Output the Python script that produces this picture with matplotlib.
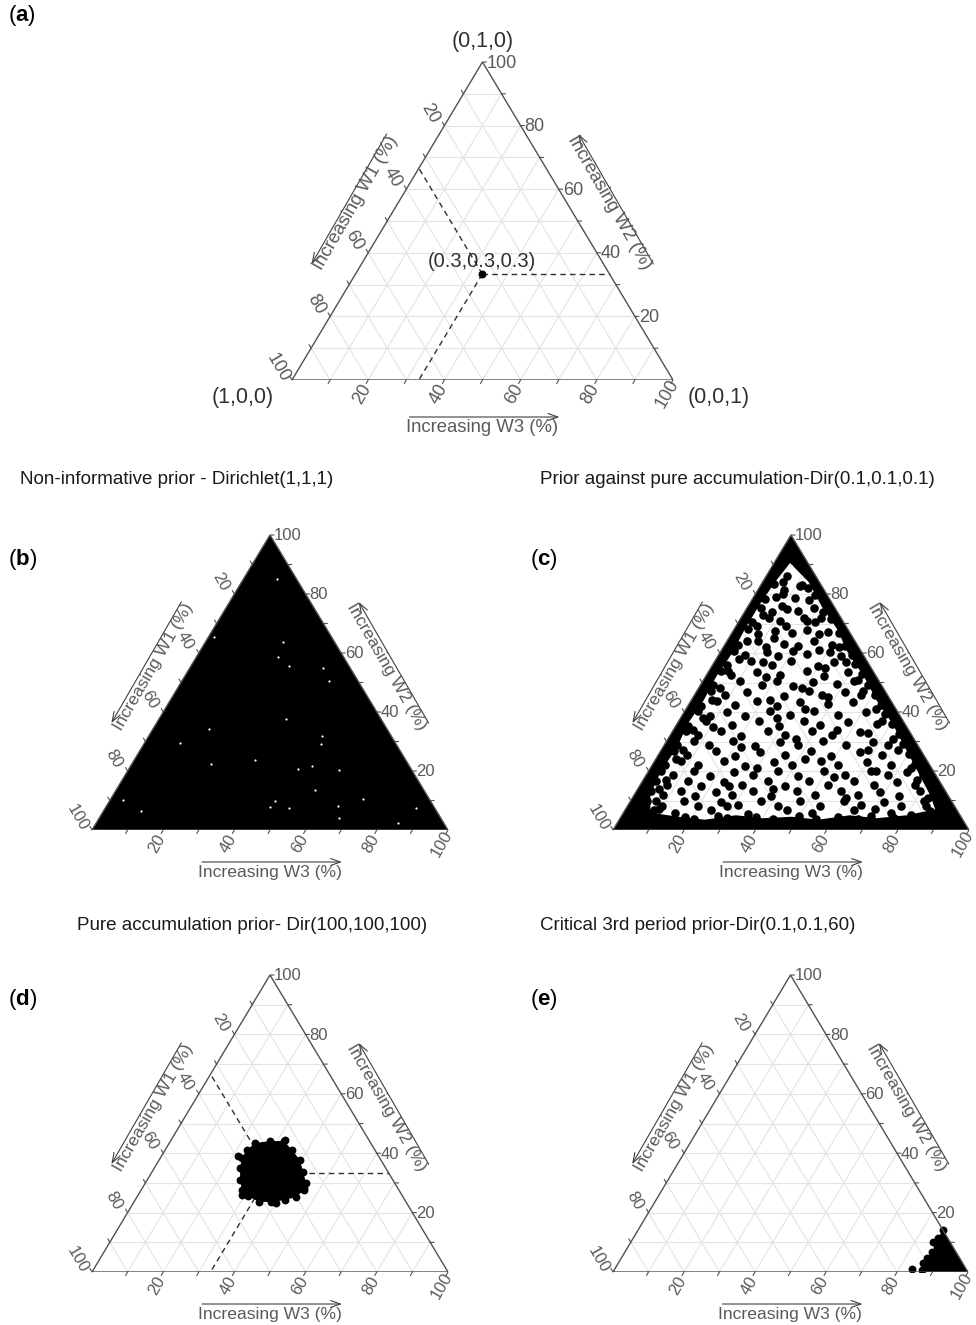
import matplotlib.pyplot as plt

plt.rcParams['font.family'] = ['Liberation Sans', 'DejaVu Sans']
plt.rcParams['mathtext.fontset'] = 'custom'
plt.rcParams['mathtext.rm'] = 'Liberation Sans'
plt.rcParams['mathtext.bf'] = 'Liberation Sans:bold'

# compositions are given as W2 and W3 in percent; W1 = 100 - W2 - W3

# (a) a single composition with guide lines
a_w2 = [33.3]
a_w3 = [33.3]

# (b) Dir(1,1,1): the cloud covers the whole simplex, a few gaps stay white
b_fill_w2 = [0, 100, 0]
b_fill_w3 = [0, 0, 100]
b_gap_w2 = [85.0, 65.3, 63.8, 58.8, 55.7, 55.0, 50.5, 37.6, 34.2, 31.9, 29.0, 29.4, 22.5,
            23.8, 20.8, 21.8, 20.3, 10.2, 6.6, 7.7, 9.9, 7.3, 13.6, 8.2, 4.0, 10.5, 2.3, 7.5]
b_gap_w3 = [9.6, 1.7, 21.7, 22.8, 27.5, 37.5, 41.3, 35.6, 15.8, 48.7, 49.9, 10.1, 22.1,
            34.0, 47.5, 50.9, 59.3, 3.6, 10.5, 46.1, 46.4, 51.8, 55.7, 65.1, 67.4, 71.0, 84.7, 87.2]

# (c) Dir(0.1,0.1,0.1): solid band along the edges, scattered points inside
c_band_w2 = [7, 12, 20, 28, 36, 44, 52, 60, 68, 76, 84, 90.5,
             84, 76, 68, 60, 52, 44, 36, 28, 20, 12, 7,
             5, 4, 5, 3.5, 4.5, 4, 5, 3.5, 4.5, 5.5]
c_band_w3 = [7, 4.5, 3.5, 4, 3, 3.5, 3, 3.5, 3, 3, 3.5, 4.5,
             13, 20.5, 29, 36, 44.5, 52, 60.5, 68, 75.5, 83, 87,
             80, 72, 64, 56, 48, 40, 32, 24, 16, 10]
c_w2 = [83.3, 81.5, 82.8, 81.9,
        78.4, 80.0, 78.7, 79.5,
        75.4, 73.9, 75.0, 74.1, 75.3, 73.8,
        70.5, 71.9, 70.8, 72.0, 70.6, 71.4,
        68.0, 66.5, 67.6, 66.8, 67.9, 66.4, 66.9,
        62.6, 64.0, 63.0, 62.4, 64.1, 62.8, 62.5,
        60.6, 59.2, 60.3, 59.0, 60.8, 59.5, 60.4, 59.1, 59.3,
        55.8, 57.2, 56.0, 57.3, 55.7, 56.9, 56.2,
        53.9, 52.4, 53.6, 52.7, 53.8, 52.3, 53.5, 52.9,
        49.0, 50.4, 49.2, 50.6, 48.9, 50.2, 49.5, 50.5, 49.3,
        47.0, 45.6, 46.9, 45.5, 47.1, 45.8, 46.7, 45.6, 45.9,
        42.2, 43.6, 42.5, 43.7, 42.0, 43.4, 42.6, 43.5, 42.4,
        40.3, 38.8, 40.1, 38.7, 40.2, 39.0, 40.4, 38.9, 40.0, 39.2,
        35.4, 36.9, 35.6, 37.0, 35.3, 36.8, 35.5, 36.7, 35.8, 35.9,
        33.6, 32.1, 33.4, 32.0, 33.7, 32.3, 33.5, 32.2, 33.3, 32.4,
        28.7, 30.1, 28.9, 30.2, 28.6, 30.0, 28.8, 30.3, 28.7, 29.9, 28.9, 29.0,
        26.7, 25.3, 26.8, 25.2, 26.6, 25.4, 26.9, 25.1, 26.5, 25.5, 25.9,
        21.9, 23.3, 22.0, 23.4, 21.8, 23.2, 22.1, 23.5, 21.9, 23.1, 22.0, 22.4,
        19.9, 18.5, 20.0, 18.4, 19.8, 18.6, 20.1, 18.3, 19.9, 18.5, 20.0, 18.7, 19.7, 18.6,
        16.5, 15.1, 16.6, 15.0, 16.4, 15.2, 16.7, 15.0, 16.5, 15.3, 16.6, 15.1, 16.4, 15.2, 15.0,
        13.1, 11.7, 13.2, 11.6, 13.0, 11.8, 13.3, 11.6, 13.1, 11.7, 13.2, 11.8, 13.0, 11.6, 13.1, 11.5,
        9.7, 8.3, 9.8, 8.2, 9.6, 8.4, 9.9, 8.2, 9.7, 8.3, 9.8, 8.4, 9.6, 8.2, 9.7, 8.5,
        6.8, 5.6, 6.9, 5.5, 6.7, 5.7, 6.8, 5.6, 6.6]
c_w3 = [3.7, 7.4, 11.1, 13.9,
        3.5, 7.7, 11.9, 17.0,
        3.8, 7.6, 11.3, 15.0, 18.8, 22.0,
        3.7, 7.9, 11.6, 17.7, 21.4, 25.6,
        3.8, 7.5, 11.7, 16.9, 20.6, 24.8, 30.0,
        3.9, 8.6, 16.5, 20.7, 24.5, 30.1, 33.8,
        3.7, 7.5, 13.1, 16.8, 20.1, 24.8, 30.8, 34.6, 37.4,
        4.0, 10.1, 16.7, 21.3, 29.7, 33.5, 40.0,
        3.3, 7.0, 13.6, 20.6, 27.6, 33.2, 39.3, 43.5,
        3.6, 10.6, 17.2, 20.9, 26.0, 31.2, 38.2, 42.4, 47.1,
        3.9, 8.6, 14.2, 25.4, 31.5, 35.7, 41.8, 46.9, 50.6,
        3.7, 7.5, 13.1, 18.7, 25.2, 30.8, 39.2, 45.8, 54.2,
        3.6, 7.8, 12.0, 17.6, 24.1, 30.2, 36.3, 43.8, 51.2, 56.8,
        3.4, 7.6, 15.5, 22.6, 29.1, 35.2, 40.3, 47.8, 56.2, 60.4,
        3.7, 7.9, 13.5, 20.0, 26.6, 32.2, 39.2, 45.3, 52.8, 64.0,
        3.5, 7.7, 12.4, 18.5, 25.5, 32.0, 37.6, 43.7, 51.2, 58.2, 62.9, 67.1,
        3.8, 8.0, 15.5, 21.6, 28.1, 35.6, 42.1, 48.7, 56.2, 62.7, 70.2,
        3.7, 7.4, 13.0, 19.5, 26.1, 33.6, 39.2, 46.6, 52.3, 59.7, 67.2, 73.7,
        3.5, 7.7, 12.8, 18.0, 24.0, 30.1, 36.2, 42.7, 49.3, 55.8, 62.4, 68.0, 72.6, 77.8,
        3.8, 7.5, 12.7, 17.3, 22.9, 28.5, 35.1, 40.7, 46.8, 52.8, 59.4, 65.9, 71.5, 77.1, 81.8,
        4.1, 8.3, 12.5, 17.2, 22.3, 27.4, 32.6, 38.7, 45.2, 50.8, 57.4, 63.0, 68.6, 74.6, 79.8, 85.4,
        4.8, 9.5, 15.1, 19.8, 25.4, 31.0, 36.6, 42.2, 47.8, 53.9, 60.0, 65.6, 71.2, 76.8, 82.4, 88.0,
        8.1, 14.7, 24.0, 35.2, 45.5, 53.0, 64.2, 75.4, 85.7]
# more (c) points: clumps along the band and extra interior points
c_more_w2 = [84, 79, 73, 69, 64, 58, 54, 48, 44, 38, 34, 27, 24, 17, 14, 10, 7,
             83, 78, 72, 67, 62, 57, 51, 47, 41, 37, 31, 27, 21, 17, 11, 8,
             3.8, 4.5, 3.6, 4.8, 3.9, 4.4, 3.7, 4.6, 3.8, 4.5, 3.7, 4.9, 4.0, 5.2, 3.8,
             86, 76, 69, 65, 61, 57, 52, 48, 44, 41, 38, 34, 31, 28, 24, 21, 18, 14, 11, 8,
             7, 45, 35, 27, 15, 55, 62, 71, 33, 20]
c_more_w3 = [5.8, 6.2, 5.5, 6.0, 5.6, 6.3, 5.4, 6.1, 5.7, 6.4, 5.5, 6.2, 5.8, 6.5, 5.9, 7.0, 9.5,
             11.5, 16.0, 22.4, 26.8, 32.5, 36.9, 43.3, 46.7, 53.4, 57.0, 63.2, 66.6, 73.3, 76.8, 83.0, 84.0,
             12, 18, 21, 27, 30, 38, 43, 50, 55, 61, 67, 70, 77, 81, 84,
             6, 9.5, 14, 12.8, 27.5, 13.5, 17, 29, 22, 33.5, 27, 46, 36, 22, 42, 30, 53, 38, 60, 28,
             70, 38, 10.5, 58, 25, 32, 12, 19, 55, 64]

# (d) Dir(100,100,100): tight cluster around the centroid
d_w2 = [43.4, 44.1, 44.1, 41.1, 37.7, 33.7, 30.0, 27.6, 25.3, 24.2, 23.6, 23.6,
        25.6, 27.6, 31.0, 35.0, 38.4, 41.1]
d_w3 = [24.1, 27.9, 31.8, 35.7, 39.5, 42.5, 45.1, 45.8, 44.7, 42.1, 38.5, 35.1,
        31.0, 28.3, 26.1, 24.1, 22.9, 23.0]
d_out_w2 = [44.6, 38.9, 28.3, 25.9, 23.4]
d_out_w3 = [31.9, 21.6, 45.4, 29.2, 40.0]

# (e) Dir(0.1,0.1,60): mass piled in the W3 corner
e_w2 = [14.1, 11.4, 10.1, 8.4, 6.7, 4.7, 3.0, 0.7, 0.0, 0.0]
e_w3 = [85.9, 85.8, 85.1, 87.1, 86.5, 86.1, 85.8, 86.7, 86.5, 100.0]
e_out_w2 = [1.0]
e_out_w3 = [83.7]

W, H = 976, 1325
GREY = '#5a5a5a'
EDGE = '#505050'
GRID = '#e3e3e3'


def tern(w2, w3):
    xs = [c / 100 + b / 200 for b, c in zip(w2, w3)]
    ys = [b / 100 for b in w2]
    return xs, ys


fig = plt.figure(figsize=(W / 100, H / 100), dpi=100)


def panel(box, big=False):
    left, base, right, apex = box
    ax = fig.add_axes([left / W, 1 - base / H, (right - left) / W, (base - apex) / H])
    ax.set_xlim(0, 1)
    ax.set_ylim(0, 1)
    ax.axis('off')
    ax.sx = right - left
    ax.sy = base - apex
    ax.big = big
    return ax


def at(ax, x, y, dx, dy):
    # data point shifted by a pixel offset
    return x + dx / ax.sx, y + dy / ax.sy


def frame(ax, clip=None):
    for k in range(10, 100, 10):
        for w2, w3 in (([k, k], [0, 100 - k]), ([0, 100 - k], [k, k]), ([100 - k, 0], [0, 100 - k])):
            ln, = ax.plot(*tern(w2, w3), color=GRID, lw=0.8, zorder=3)
            if clip is not None:
                ln.set_clip_path(clip)
    ax.plot(*tern([0, 100, 0, 0], [0, 0, 100, 0]), color=EDGE, lw=1.0, zorder=10,
            solid_joinstyle='miter')


def ticks(ax):
    fs = 13 if ax.big else 12
    tk = dict(arrowstyle='-', color=EDGE, lw=0.8, shrinkA=0, shrinkB=0)
    for k in range(10, 110, 10):
        # W3 along the base
        x, y = tern([0], [k])
        ax.annotate('', xy=(x[0], y[0]), xytext=at(ax, x[0], y[0], -2, -3.5), arrowprops=tk,
                    annotation_clip=False)
        if k % 20 == 0:
            ax.text(*at(ax, x[0], y[0], -6, -14), str(k), rotation=60, fontsize=fs,
                    color=GREY, ha='center', va='center')
        # W1 along the left edge
        x, y = tern([100 - k], [0])
        ax.annotate('', xy=(x[0], y[0]), xytext=at(ax, x[0], y[0], -2, 3.5), arrowprops=tk,
                    annotation_clip=False)
        if k % 20 == 0:
            ax.text(*at(ax, x[0], y[0], -14, 12), str(k), rotation=-60, fontsize=fs,
                    color=GREY, ha='center', va='center')
        # W2 along the right edge
        x, y = tern([k], [100 - k])
        ax.annotate('', xy=(x[0], y[0]), xytext=at(ax, x[0], y[0], 4, 0), arrowprops=tk,
                    annotation_clip=False)
        if k % 20 == 0:
            ax.text(*at(ax, x[0], y[0], 4, -1), str(k), fontsize=fs, color=GREY,
                    ha='left', va='center')


def titles(ax):
    fs = 13.3 if ax.big else 12.6
    d_side = 44 if ax.big else 40
    d_base = 37 if ax.big else 32
    half = 75 if ax.big else 70
    ar = dict(arrowstyle='->,head_length=0.7,head_width=0.25', color='#404040', lw=0.8,
              shrinkA=0, shrinkB=0)
    c, s = 0.866, 0.5
    # left edge: Increasing W1
    mx, my = tern([50], [0])
    nx, ny = -c * d_side, s * d_side
    ax.annotate('', xy=at(ax, mx[0], my[0], nx - s * half, ny - c * half),
                xytext=at(ax, mx[0], my[0], nx + s * half, ny + c * half), arrowprops=ar,
                annotation_clip=False)
    ax.text(*at(ax, mx[0], my[0], nx + c * 8, ny - s * 8), 'Increasing W1 (%)', rotation=60,
            fontsize=fs, color=GREY, ha='center', va='center', rotation_mode='anchor')
    # right edge: Increasing W2
    mx, my = tern([50], [50])
    nx, ny = c * d_side, s * d_side
    ax.annotate('', xy=at(ax, mx[0], my[0], nx - s * half, ny + c * half),
                xytext=at(ax, mx[0], my[0], nx + s * half, ny - c * half), arrowprops=ar,
                annotation_clip=False)
    ax.text(*at(ax, mx[0], my[0], nx - c * 8, ny - s * 8), 'Increasing W2 (%)', rotation=-60,
            fontsize=fs, color=GREY, ha='center', va='center', rotation_mode='anchor')
    # base: Increasing W3
    mx, my = tern([0], [50])
    ax.annotate('', xy=at(ax, mx[0], my[0], half + 2, -d_base),
                xytext=at(ax, mx[0], my[0], -half + 2, -d_base), arrowprops=ar,
                annotation_clip=False)
    ax.text(*at(ax, mx[0], my[0], 0, -d_base - 11), 'Increasing W3 (%)', fontsize=fs,
            color=GREY, ha='center', va='center')


def guides(ax, w2, w3):
    w1 = 100 - w2 - w3
    dash = dict(color='#303030', lw=1.0, ls=(0, (4, 3)), zorder=4)
    ax.plot(*tern([w2, 100 - w1], [w3, 0]), **dash)
    ax.plot(*tern([w2, w2], [w3, 100 - w2]), **dash)
    ax.plot(*tern([w2, 0], [w3, w3]), **dash)


# ---------------- (a)
ax = panel((292, 380, 673, 62), big=True)
frame(ax)
ticks(ax)
titles(ax)
guides(ax, a_w2[0], a_w3[0])
ax.scatter(*tern(a_w2, a_w3), s=22, color='black', zorder=6)
xa, ya = tern(a_w2, a_w3)
ax.text(*at(ax, xa[0], ya[0], 0, 13), '(0.3,0.3,0.3)', fontsize=14.5, color='#303030',
        ha='center', va='center', zorder=7)
for w2, w3, dx, dy, lab in ((100, 0, 0, 21, '(0,1,0)'), (0, 0, -49, -18, '(1,0,0)'),
                            (0, 100, 46, -18, '(0,0,1)')):
    x, y = tern([w2], [w3])
    ax.text(*at(ax, x[0], y[0], dx, dy), lab, fontsize=15.5, color='#303030',
            ha='center', va='center')

# ---------------- (b)
ax = panel((92, 830, 448, 535))
frame(ax)
ax.fill(*tern(b_fill_w2, b_fill_w3), color='black', zorder=5, lw=0)
ax.scatter(*tern(b_gap_w2, b_gap_w3), s=2.5, color='white', zorder=6, lw=0)
ticks(ax)
titles(ax)

# ---------------- (c)
ax = panel((613, 830, 969, 535))
ax.fill(*tern(b_fill_w2, b_fill_w3), color='black', zorder=1, lw=0)
inner = ax.fill(*tern(c_band_w2, c_band_w3), color='white', zorder=2, lw=0)[0]
frame(ax, clip=inner)
ax.scatter(*tern(c_w2, c_w3), s=38, color='black', zorder=6, lw=0)
ax.scatter(*tern(c_more_w2, c_more_w3), s=38, color='black', zorder=6, lw=0)
ticks(ax)
titles(ax)

# ---------------- (d)
ax = panel((92, 1272, 448, 975))
frame(ax)
guides(ax, 33.3, 33.3)
ax.fill(*tern(d_w2, d_w3), color='black', zorder=5, lw=0)
ax.scatter(*tern(d_w2, d_w3), s=32, color='black', zorder=6, lw=0)
ax.scatter(*tern(d_out_w2, d_out_w3), s=32, color='black', zorder=6, lw=0)
ticks(ax)
titles(ax)

# ---------------- (e)
ax = panel((613, 1272, 968, 975))
frame(ax)
ax.fill(*tern(e_w2, e_w3), color='black', zorder=5, lw=0)
ax.scatter(*tern(e_w2[:-2], e_w3[:-2]), s=32, color='black', zorder=6, lw=0)
ax.scatter(*tern(e_out_w2, e_out_w3), s=32, color='black', zorder=6, lw=0)
ticks(ax)
titles(ax)

# panel letters and subtitles
for x, y, lab in ((8, 15, 'a'), (8, 560, 'b'), (530, 560, 'c'),
                  (8, 1000, 'd'), (530, 1000, 'e')):
    fig.text(x / W, 1 - y / H, '(' + r'$\mathbf{' + lab + '}$' + ')', fontsize=16,
             va='center', ha='left')
for x, y, lab in ((20, 480, 'Non-informative prior - Dirichlet(1,1,1)'),
                  (540, 480, 'Prior against pure accumulation-Dir(0.1,0.1,0.1)'),
                  (77, 925, 'Pure accumulation prior- Dir(100,100,100)'),
                  (540, 925, 'Critical 3rd period prior-Dir(0.1,0.1,60)')):
    fig.text(x / W, 1 - y / H, lab, fontsize=13.5, color='#1a1a1a', va='center', ha='left')

fig.savefig('out.png', dpi=100)
